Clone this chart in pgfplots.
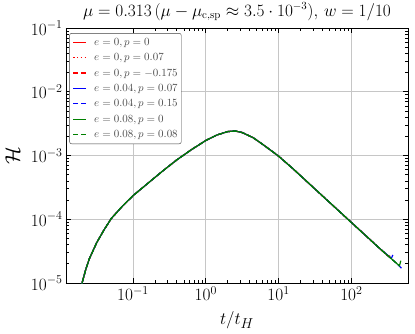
\documentclass[border=0pt]{standalone}
\usepackage{pgfplots}
\pgfplotsset{compat=1.18}
\usepackage{pgfplotstable}
\definecolor{mplgreen}{RGB}{0,128,0}
\newcommand{\lsolid}[1]{\textcolor{#1}{\rule[2.6pt]{13pt}{1.2pt}}}
\newcommand{\ldashed}[1]{\textcolor{#1}{\rule[2.6pt]{5pt}{1.2pt}\hspace{3pt}\rule[2.6pt]{5pt}{1.2pt}}}
\newcommand{\ldotted}[1]{\textcolor{#1}{\rule[2.6pt]{1.4pt}{1.2pt}\hspace{2.4pt}\rule[2.6pt]{1.4pt}{1.2pt}\hspace{2.4pt}\rule[2.6pt]{1.4pt}{1.2pt}\hspace{2.4pt}\rule[2.6pt]{1.4pt}{1.2pt}}}
\newcommand{\ltxt}[1]{\textcolor{black!70}{#1}}

\pgfplotstableread{
t H
0.01905 7.94e-6
0.01995 1.0e-5
0.02239 1.62e-5
0.02512 2.40e-5
0.03162 4.27e-5
0.03981 6.76e-5
0.05012 1.023e-4
0.07079 1.585e-4
0.1 2.344e-4
0.1585 3.63e-4
0.2512 5.62e-4
0.3981 8.51e-4
0.6310 1.23e-3
1.0 1.72e-3
1.413 2.09e-3
1.995 2.37e-3
2.512 2.43e-3
3.162 2.29e-3
4.467 1.905e-3
6.310 1.445e-3
10 9.77e-4
15.85 6.17e-4
25.12 3.80e-4
39.81 2.34e-4
63.10 1.445e-4
100 8.91e-5
158.5 5.50e-5
251.2 3.39e-5
331.1 2.57e-5
339.0 2.70e-5
}\redsolid

\pgfplotstableread{
t H
0.01905 7.94e-6
0.01995 1.0e-5
0.02239 1.62e-5
0.02512 2.40e-5
0.03162 4.27e-5
0.03981 6.76e-5
0.05012 1.023e-4
0.07079 1.585e-4
0.1 2.344e-4
0.1585 3.63e-4
0.2512 5.62e-4
0.3981 8.51e-4
0.6310 1.23e-3
1.0 1.72e-3
1.413 2.09e-3
1.995 2.37e-3
2.512 2.43e-3
3.162 2.29e-3
4.467 1.905e-3
6.310 1.445e-3
10 9.77e-4
15.85 6.17e-4
25.12 3.80e-4
39.81 2.34e-4
63.10 1.445e-4
100 8.91e-5
158.5 5.50e-5
251.2 3.39e-5
316.2 2.69e-5
}\reddotted

\pgfplotstableread{
t H
0.01905 7.94e-6
0.01995 1.0e-5
0.02239 1.62e-5
0.02512 2.40e-5
0.03162 4.27e-5
0.03981 6.76e-5
0.05012 1.023e-4
0.07079 1.585e-4
0.1 2.344e-4
0.1585 3.63e-4
0.2512 5.62e-4
0.3981 8.51e-4
0.6310 1.23e-3
1.0 1.72e-3
1.413 2.09e-3
1.995 2.37e-3
2.512 2.43e-3
3.162 2.29e-3
4.467 1.905e-3
6.310 1.445e-3
10 9.77e-4
15.85 6.17e-4
25.12 3.80e-4
39.81 2.34e-4
63.10 1.445e-4
100 8.91e-5
158.5 5.50e-5
251.2 3.39e-5
323.6 2.62e-5
}\reddashed

\pgfplotstableread{
t H
0.01905 7.94e-6
0.01995 1.0e-5
0.02239 1.62e-5
0.02512 2.40e-5
0.03162 4.27e-5
0.03981 6.76e-5
0.05012 1.023e-4
0.07079 1.585e-4
0.1 2.344e-4
0.1585 3.63e-4
0.2512 5.62e-4
0.3981 8.51e-4
0.6310 1.23e-3
1.0 1.72e-3
1.413 2.09e-3
1.995 2.37e-3
2.512 2.43e-3
3.162 2.29e-3
4.467 1.905e-3
6.310 1.445e-3
10 9.77e-4
15.85 6.17e-4
25.12 3.80e-4
39.81 2.34e-4
63.10 1.445e-4
100 8.91e-5
158.5 5.50e-5
251.2 3.39e-5
354.8 2.45e-5
371.5 2.75e-5
}\bluesolid

\pgfplotstableread{
t H
0.01905 7.94e-6
0.01995 1.0e-5
0.02239 1.62e-5
0.02512 2.40e-5
0.03162 4.27e-5
0.03981 6.76e-5
0.05012 1.023e-4
0.07079 1.585e-4
0.1 2.344e-4
0.1585 3.63e-4
0.2512 5.62e-4
0.3981 8.51e-4
0.6310 1.23e-3
1.0 1.72e-3
1.413 2.09e-3
1.995 2.37e-3
2.512 2.43e-3
3.162 2.29e-3
4.467 1.905e-3
6.310 1.445e-3
10 9.77e-4
15.85 6.17e-4
25.12 3.80e-4
39.81 2.34e-4
63.10 1.445e-4
100 8.91e-5
158.5 5.50e-5
251.2 3.39e-5
398.1 2.14e-5
501.2 1.66e-5
}\bluedashed

\pgfplotstableread{
t H
0.01905 7.94e-6
0.01995 1.0e-5
0.02239 1.62e-5
0.02512 2.40e-5
0.03162 4.27e-5
0.03981 6.76e-5
0.05012 1.023e-4
0.07079 1.585e-4
0.1 2.344e-4
0.1585 3.63e-4
0.2512 5.62e-4
0.3981 8.51e-4
0.6310 1.23e-3
1.0 1.72e-3
1.413 2.09e-3
1.995 2.37e-3
2.512 2.43e-3
3.162 2.29e-3
4.467 1.905e-3
6.310 1.445e-3
10 9.77e-4
15.85 6.17e-4
25.12 3.80e-4
39.81 2.34e-4
63.10 1.445e-4
100 8.91e-5
158.5 5.50e-5
251.2 3.39e-5
457.1 1.86e-5
478.6 2.24e-5
}\greensolid

\pgfplotstableread{
t H
0.01905 7.94e-6
0.01995 1.0e-5
0.02239 1.62e-5
0.02512 2.40e-5
0.03162 4.27e-5
0.03981 6.76e-5
0.05012 1.023e-4
0.07079 1.585e-4
0.1 2.344e-4
0.1585 3.63e-4
0.2512 5.62e-4
0.3981 8.51e-4
0.6310 1.23e-3
1.0 1.72e-3
1.413 2.09e-3
1.995 2.37e-3
2.512 2.43e-3
3.162 2.29e-3
4.467 1.905e-3
6.310 1.445e-3
10 9.77e-4
15.85 6.17e-4
25.12 3.80e-4
39.81 2.34e-4
63.10 1.445e-4
100 8.91e-5
158.5 5.50e-5
251.2 3.39e-5
436.5 1.95e-5
}\greendashed

\begin{document}
\begin{tikzpicture}
\begin{axis}[
  name=main,
  scale only axis,
  width=342pt, height=255pt,
  xmode=log, ymode=log,
  xmin=0.012, xmax=600,
  ymin=1e-5, ymax=1e-1,
  axis line style={line width=0.9pt},
  tick align=inside,
  xtick pos=both, ytick pos=both,
  major tick length=5pt, minor tick length=3pt,
  every tick/.append style={black, line width=0.7pt},
  grid=major,
  major grid style={gray!45, line width=0.7pt},
  tick label style={font=\fontsize{16.5}{18}\selectfont},
  xtick={0.1,1,10,100},
  ytick={1e-5,1e-4,1e-3,1e-2,1e-1},
  title={$\mu=0.313\,(\mu-\mu_{\mathrm{c,sp}}\approx 3.5\cdot 10^{-3}),\, w=1/10$},
  title style={font=\fontsize{16.3}{18}\selectfont, at={(axis description cs:0.5,1)}, anchor=south, inner sep=0pt, yshift=1pt},
  xlabel={$t/t_H$},
  ylabel={$\mathcal{H}$},
  xlabel style={font=\fontsize{19}{21}\selectfont, at={(axis description cs:0.5,0)}, anchor=center, yshift=-37pt},
  ylabel style={font=\fontsize{20}{22}\selectfont, at={(axis description cs:-0.156,0.5)}, anchor=center, rotate=0},
]
\addplot[color=red, line width=1.2pt] table[x=t,y=H] {\redsolid};
\addplot[color=red, line width=1.2pt, dash pattern=on 1.5pt off 2.4pt] table[x=t,y=H] {\reddotted};
\addplot[color=red, line width=1.2pt, dash pattern=on 5pt off 2.4pt] table[x=t,y=H] {\reddashed};
\addplot[color=blue, line width=1.2pt] table[x=t,y=H] {\bluesolid};
\addplot[color=blue, line width=1.2pt, dash pattern=on 5pt off 2.4pt] table[x=t,y=H] {\bluedashed};
\addplot[color=mplgreen, line width=1.2pt] table[x=t,y=H] {\greensolid};
\addplot[color=mplgreen, line width=1.2pt, dash pattern=on 5pt off 2.4pt] table[x=t,y=H] {\greendashed};
\node[anchor=north west, draw=black!75, rounded corners=2pt, fill=white, inner sep=1.5pt,
  font=\fontsize{11}{12}\selectfont] at (axis description cs:0.01,0.98) {%
  \renewcommand{\arraystretch}{1.28}\setlength{\tabcolsep}{3pt}%
  \begin{tabular}{@{\hspace{2pt}}l@{\hspace{8pt}}l@{\hspace{2pt}}}
  \lsolid{red} & \ltxt{$e=0,p=0$}\\
  \ldotted{red} & \ltxt{$e=0,p=0.07$}\\
  \ldashed{red} & \ltxt{$e=0,p=-0.175$}\\
  \lsolid{blue} & \ltxt{$e=0.04,p=0.07$}\\
  \ldashed{blue} & \ltxt{$e=0.04,p=0.15$}\\
  \lsolid{mplgreen} & \ltxt{$e=0.08,p=0$}\\
  \ldashed{mplgreen} & \ltxt{$e=0.08,p=0.08$}
  \end{tabular}};
\end{axis}
\pgfresetboundingbox
\path ([xshift=-66pt,yshift=-51pt]main.south west) rectangle ([xshift=7pt,yshift=28pt]main.north east);
\end{tikzpicture}
\end{document}
